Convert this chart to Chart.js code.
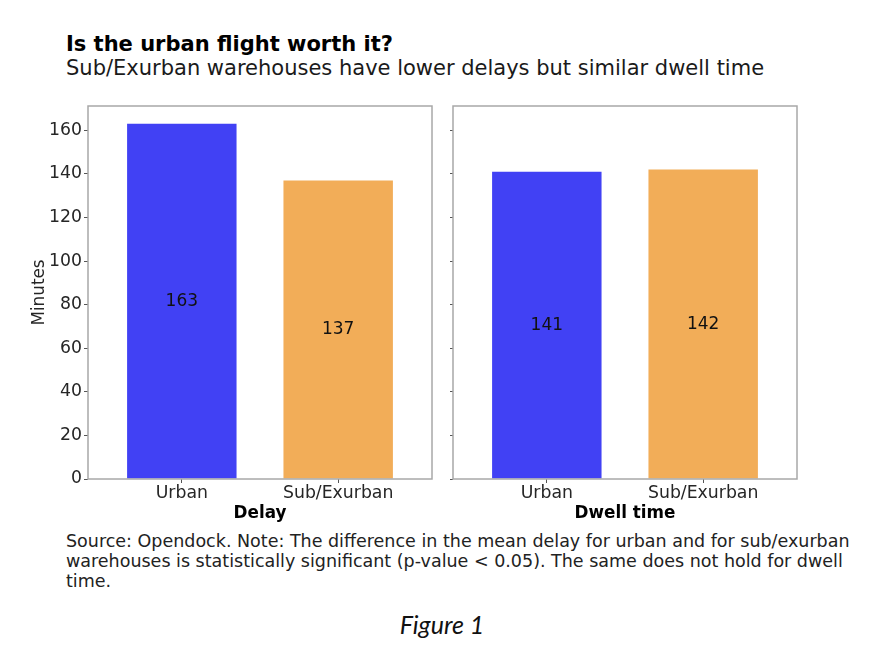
<!DOCTYPE html>
<html>
<head>
<meta charset="utf-8">
<script src="https://cdn.jsdelivr.net/npm/chart.js@4"></script>
<style>
  body { margin: 0; background: #fff; width: 890px; height: 654px; position: relative; overflow: hidden; font-family: 'DejaVu Sans', sans-serif; }
  .title { position: absolute; left: 66px; top: 32px; font-size: 21px; font-weight: bold; color: #000; line-height: 24px; }
  .subtitle { position: absolute; left: 66px; top: 55px; font-size: 21px; color: #1a1a1a; line-height: 26px; }
  .panel { position: absolute; top: 90px; width: 445px; height: 440px; }
  .caption { position: absolute; left: 66px; top: 531px; font-size: 17.5px; line-height: 20px; color: #222; white-space: nowrap; }
  .figure { position: absolute; left: 0; width: 884px; top: 609px; text-align: center; font-family: Lato, sans-serif; font-style: italic; font-size: 25px; color: #111; }
</style>
</head>
<body>
<div class="title">Is the urban flight worth it?</div>
<div class="subtitle">Sub/Exurban warehouses have lower delays but similar dwell time</div>
<div class="panel" style="left:0"><canvas id="delayChart"></canvas></div>
<div class="panel" style="left:445px"><canvas id="dwellChart"></canvas></div>
<div class="caption">Source: Opendock. Note: The difference in the mean delay for urban and for sub/exurban<br>warehouses is statistically significant (p-value &lt; 0.05). The same does not hold for dwell<br>time.</div>
<div class="figure">Figure 1</div>
<script>
// 데이터
const categories = ['Urban', 'Sub/Exurban'];
const delayValues = [163, 137];
const dwellValues = [141, 142];
const yTicks = [0, 20, 40, 60, 80, 100, 120, 140, 160];
const barColors = ['#4141F4', '#F2AD58'];

Chart.defaults.font.family = "'DejaVu Sans', sans-serif";
Chart.defaults.color = '#262626';

// 막대 가운데에 값 표시 + 테두리 상자
const panelPlugin = {
  id: 'panelPlugin',
  afterDatasetsDraw(chart) {
    const { ctx, chartArea, scales } = chart;
    const meta = chart.getDatasetMeta(0);
    ctx.save();
    ctx.font = "17px 'DejaVu Sans'";
    ctx.fillStyle = '#111';
    ctx.textAlign = 'center';
    ctx.textBaseline = 'middle';
    meta.data.forEach((bar, i) => {
      const v = chart.data.datasets[0].data[i].y;
      ctx.fillText(String(v), bar.x, scales.y.getPixelForValue(v / 2));
    });
    ctx.strokeStyle = '#a8a8a8';
    ctx.lineWidth = 1.5;
    ctx.strokeRect(chartArea.left, chartArea.top, chartArea.right - chartArea.left, chartArea.bottom - chartArea.top);
    ctx.restore();
  }
};

function makeChart(id, values, xTitle, showY) {
  const ctx = document.getElementById(id).getContext('2d');
  return new Chart(ctx, {
    type: 'bar',
    data: {
      datasets: [{
        data: values.map((v, i) => ({ x: i, y: v })),
        backgroundColor: barColors,
        borderWidth: 0,
        barPercentage: 0.7,
        categoryPercentage: 1.0
      }]
    },
    options: {
      responsive: false,
      animation: false,
      layout: { padding: showY ? { top: 16, left: 25, right: 13, bottom: 0 } : { top: 16, left: 0, right: 93, bottom: 0 } },
      plugins: { legend: { display: false }, tooltip: { enabled: false } },
      scales: {
        x: {
          type: 'linear',
          min: -0.6,
          max: 1.6,
          offset: false,
          afterBuildTicks: (s) => { s.ticks = categories.map((c, i) => ({ value: i })); },
          afterFit: (s) => { s.height = 51; },
          ticks: { callback: (v) => categories[v], font: { size: 17.3 }, padding: 0, maxRotation: 0, autoSkip: false },
          grid: { display: true, offset: false, drawOnChartArea: false, drawTicks: true, tickLength: 4, color: '#555' },
          border: { display: false },
          title: { display: true, text: xTitle, font: { size: 16.8, weight: 'bold' }, color: '#000', padding: { top: 0, bottom: 6 } }
        },
        y: {
          min: 0,
          max: 171.15,
          afterBuildTicks: (s) => { s.ticks = yTicks.map(v => ({ value: v })); },
          afterFit: (s) => { s.width = showY ? 63 : 8; },
          ticks: { display: showY, font: { size: 17.3 }, padding: 2 },
          grid: { display: true, drawOnChartArea: false, drawTicks: true, tickLength: showY ? 4 : 3, color: '#555' },
          border: { display: false },
          title: { display: showY, text: 'Minutes', font: { size: 16.8 }, color: '#262626', padding: { top: 5, bottom: 0 } }
        }
      }
    },
    plugins: [panelPlugin]
  });
}

const c1 = document.getElementById('delayChart');
const c2 = document.getElementById('dwellChart');
[c1, c2].forEach(c => { c.width = 445; c.height = 440; c.style.width = '445px'; c.style.height = '440px'; });

makeChart('delayChart', delayValues, 'Delay', true);
makeChart('dwellChart', dwellValues, 'Dwell time', false);
</script>
</body>
</html>
